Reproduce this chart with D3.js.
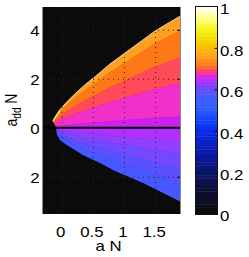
<!DOCTYPE html>
<html>
<head>
<meta charset="utf-8">
<script src="https://cdn.jsdelivr.net/npm/d3@7"></script>
<style>
  body { margin: 0; background: #fff; }
  svg { display: block; font-family: "Liberation Sans", Arial, sans-serif; }
</style>
</head>
<body>
<svg id="chart" width="249" height="257"></svg>
<script>
// tick values
const xTicks = [0, 0.5, 1, 1.5]
const yTicks = [-2, 0, 2, 4]
const cbTicks = [0, 0.2, 0.4, 0.6, 0.8, 1]

// edge of the coloured region [a N, a_dd N]
const upperEdge = [
  [-0.145, 0.28], [-0.097, 0.48], [-0.032, 0.73], [0.081, 1.05], [0.21, 1.38],
  [0.371, 1.75], [0.548, 2.11], [0.774, 2.60], [1.016, 3.05], [1.258, 3.50],
  [1.5, 3.95], [1.742, 4.32], [1.92, 4.58]
]
const lowerEdge = [
  [-0.081, -0.01], [-0.081, -0.25], [-0.032, -0.50], [0.081, -0.70], [0.339, -1.11],
  [0.613, -1.44], [0.855, -1.76], [1.306, -2.25], [1.92, -3.04]
]

// colour bands: borders as share of the local edge height, and band value
const upperCuts = [1, 0.87, 0.63, 0.40, 0.10, 0]
const upperVals = [0.76, 0.72, 0.695, 0.675, 0.66]
const lowerCuts = [0, 0.2, 0.36, 0.57, 0.77, 1]
const lowerVals = [0.645, 0.63, 0.61, 0.59, 0.57]
// brighter strip at the tip of the upper edge
const tipCount = 3
const tipCuts = [1, 0.88]
const tipVal = 0.88

// colour map
const cmapPos = [0, 0.1, 0.2, 0.3, 0.4, 0.45, 0.5, 0.55, 0.57, 0.59, 0.61, 0.63, 0.645,
  0.66, 0.675, 0.695, 0.72, 0.76, 0.8, 0.85, 0.9, 0.95, 1]
const cmapCol = ['#0b0b0b', '#0d0d30', '#0a1468', '#0a1aa8', '#0a2ae8', '#1040ff', '#2a58ff',
  '#3a64ff', '#4658ff', '#5a50ff', '#7448ff', '#9040ff', '#b030ff', '#d020f0', '#f030c8',
  '#ff4a5a', '#ff7818', '#ffa020', '#ffb800', '#f0e000', '#f8f820', '#ffff90', '#ffffff']

const plot = { left: 43, right: 180, top: 7, bottom: 214 }
const cbar = { left: 196, right: 217 }
const sx = 1.2   // text in the picture is stretched sideways

const x = d3.scaleLinear().domain([-0.3, 1.9]).range([plot.left, plot.right])
const y = d3.scaleLinear().domain([-3.52, 4.93]).range([plot.bottom, plot.top])
const cy = d3.scaleLinear().domain([0, 1]).range([plot.bottom, plot.top])
const cmap = d3.scaleLinear().domain(cmapPos).range(cmapCol)
  .interpolate(d3.interpolateRgb).clamp(true)

const line = d3.line().x(d => x(d[0])).y(d => y(d[1]))

const svg = d3.select('#chart')
const defs = svg.append('defs')

defs.append('clipPath').attr('id', 'plotclip')
  .append('rect')
    .attr('x', plot.left).attr('y', plot.top)
    .attr('width', plot.right - plot.left).attr('height', plot.bottom - plot.top)

const region = upperEdge.concat(lowerEdge.slice().reverse())
defs.append('clipPath').attr('id', 'regionclip')
  .append('path').attr('d', line(region) + 'Z')

// Draw Image
// ==========
const canvas = svg.append('g').attr('clip-path', 'url(#plotclip)')
canvas.append('rect')
    .attr('x', plot.left).attr('y', plot.top)
    .attr('width', plot.right - plot.left).attr('height', plot.bottom - plot.top)
    .attr('fill', cmap(0))

function band(edge, t0, t1) {
  const a = edge.map(p => [p[0], p[1] * t1])
  const b = edge.map(p => [p[0], p[1] * t0]).reverse()
  return a.concat(b)
}

const bands = []
upperVals.forEach((v, i) => bands.push({ pts: band(upperEdge, upperCuts[i + 1], upperCuts[i]), v }))
lowerVals.forEach((v, i) => bands.push({ pts: band(lowerEdge, lowerCuts[i], lowerCuts[i + 1]), v }))
bands.push({ pts: band(upperEdge.slice(0, tipCount), tipCuts[1], tipCuts[0]), v: tipVal })

const fills = canvas.append('g').attr('clip-path', 'url(#regionclip)')
fills.selectAll('path')
    .data(bands)
  .enter().append('path')
    .attr('d', d => line(d.pts) + 'Z')
    .attr('fill', d => cmap(d.v))
    .attr('stroke', d => cmap(d.v))
    .attr('stroke-width', 0.6)

// light rim on the upper edge
canvas.append('path')
    .attr('d', line(upperEdge))
    .attr('fill', 'none')
    .attr('stroke', '#fff4d0')
    .attr('stroke-width', 0.8)

// Grid
// ====
const grid = canvas.append('g').attr('stroke', '#262626').attr('stroke-dasharray', '1,4')
grid.selectAll('line.v')
    .data(xTicks)
  .enter().append('line')
    .attr('class', 'v')
    .attr('x1', d => x(d) + 0.5).attr('x2', d => x(d) + 0.5)
    .attr('y1', plot.top).attr('y2', plot.bottom)
grid.selectAll('line.h')
    .data(yTicks)
  .enter().append('line')
    .attr('class', 'h')
    .attr('y1', d => y(d) + 0.5).attr('y2', d => y(d) + 0.5)
    .attr('x1', plot.left).attr('x2', plot.right)

// zero line
canvas.append('path')
    .attr('d', line([[-0.3, 0], [1.9, 0]]))
    .attr('stroke', '#000')
    .attr('stroke-width', 1.8)

// Axis
// ====
const frame = svg.append('g').attr('stroke', '#8a8a8a').attr('stroke-width', 1)
frame.append('line').attr('x1', plot.left - 0.5).attr('x2', plot.left - 0.5)
  .attr('y1', plot.top).attr('y2', plot.bottom)
frame.append('line').attr('x1', plot.right + 0.5).attr('x2', plot.right + 0.5)
  .attr('y1', plot.top).attr('y2', plot.bottom)

const ticks = svg.append('g').attr('stroke', '#111')
ticks.selectAll('line.r')
    .data(yTicks)
  .enter().append('line')
    .attr('x1', plot.right - 3).attr('x2', plot.right)
    .attr('y1', d => y(d) + 0.5).attr('y2', d => y(d) + 0.5)

const txt = svg.append('g').attr('font-size', 14).attr('fill', '#000')
function label(g, px, py, s, anchor) {
  g.append('text')
      .attr('transform', `translate(${px},${py}) scale(${sx},1)`)
      .attr('text-anchor', anchor)
      .text(s)
}
xTicks.forEach(d => label(txt, x(d) - 1, 236.5, d, 'middle'))
yTicks.forEach(d => label(txt, 39.5, y(d) + 6.5, Math.abs(d), 'end'))
label(txt, 108.5, 250.5, 'a N', 'middle')

const ylab = txt.append('text')
    .attr('transform', `translate(17,110) scale(${sx},1) rotate(-90)`)
    .attr('text-anchor', 'middle')
ylab.append('tspan').text('a')
ylab.append('tspan').attr('font-size', 10).attr('dy', 3).text('dd')
ylab.append('tspan').attr('dy', -3).text(' N')

// Colorbar
// ========
const levels = d3.range(64)
const cb = svg.append('g')
cb.selectAll('rect')
    .data(levels)
  .enter().append('rect')
    .attr('x', cbar.left)
    .attr('width', cbar.right - cbar.left)
    .attr('y', i => cy((i + 1) / 64))
    .attr('height', i => cy(i / 64) - cy((i + 1) / 64) + 0.4)
    .attr('fill', i => cmap((i + 0.5) / 64))
cb.append('rect')
    .attr('x', cbar.left - 0.5).attr('y', plot.top - 0.5)
    .attr('width', cbar.right - cbar.left + 1).attr('height', plot.bottom - plot.top + 1)
    .attr('fill', 'none').attr('stroke', '#111')
cb.selectAll('line')
    .data(cbTicks.slice(1, -1))
  .enter().append('line')
    .attr('x1', cbar.right - 2.5).attr('x2', cbar.right)
    .attr('y1', d => cy(d)).attr('y2', d => cy(d))
    .attr('stroke', '#111')
cbTicks.forEach(d => label(txt, 220, cy(d) + 7.3, d, 'start'))
</script>
</body>
</html>
